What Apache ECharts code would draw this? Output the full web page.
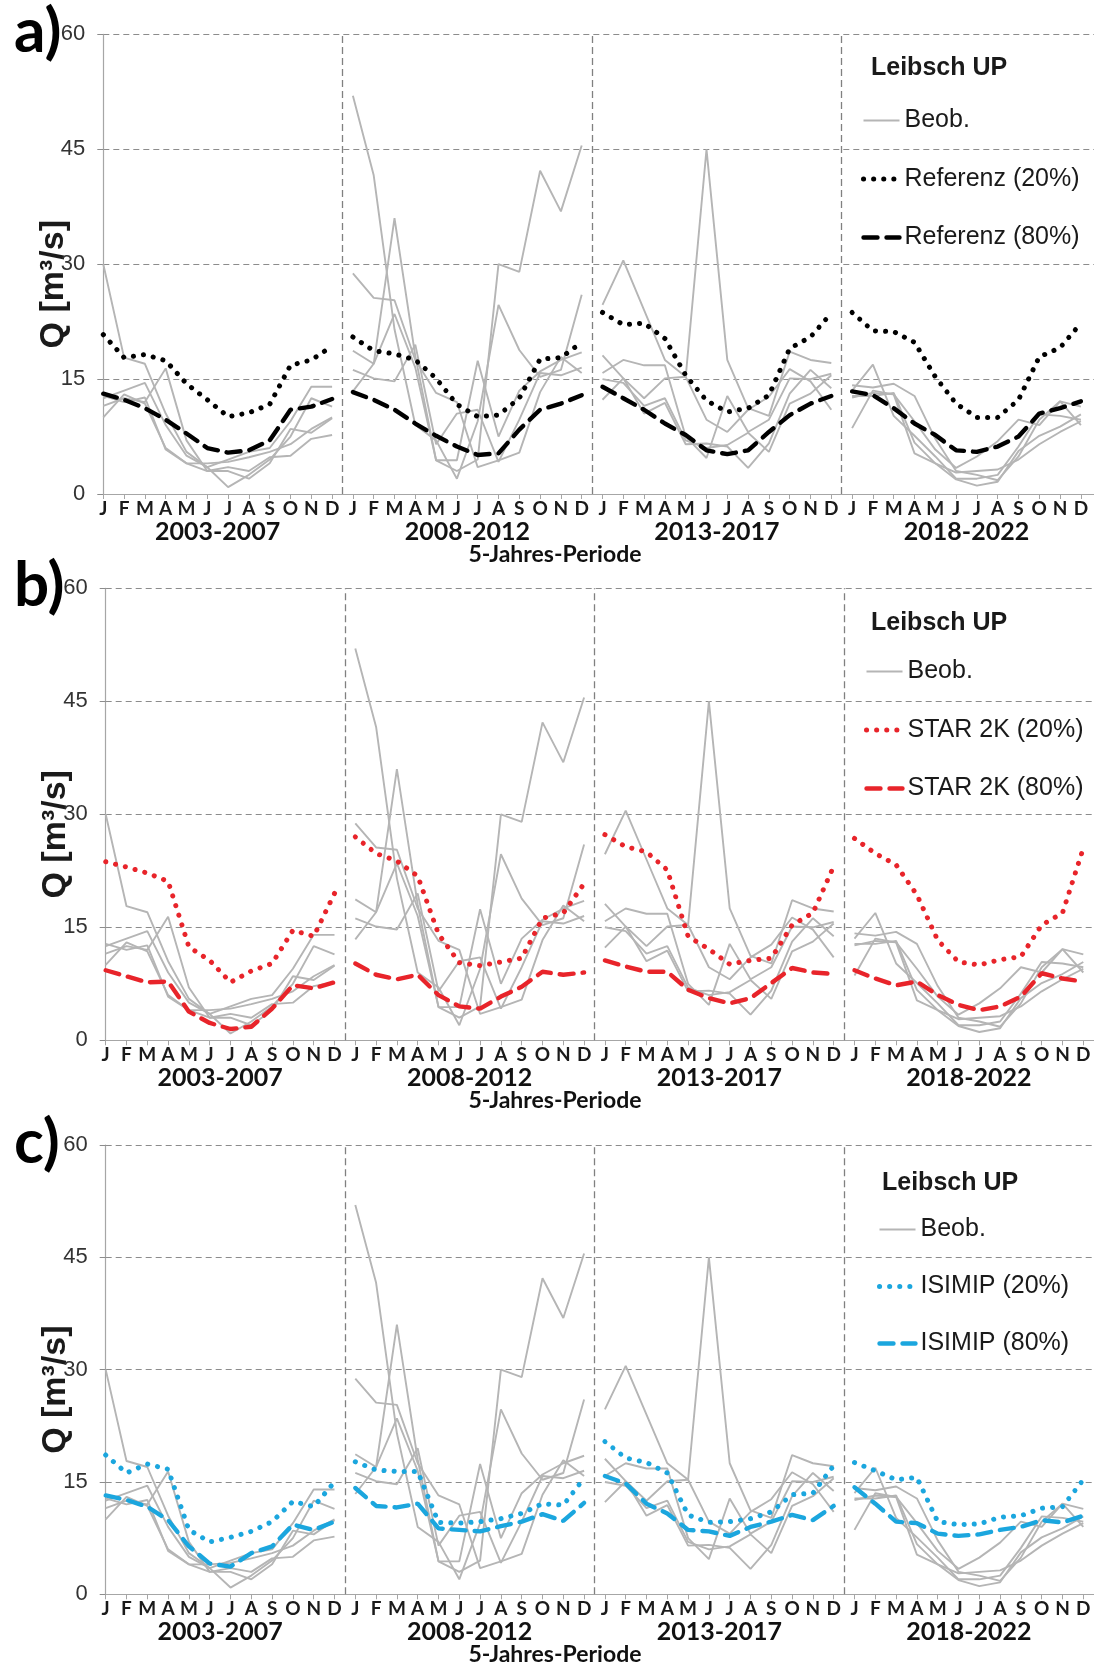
<!DOCTYPE html>
<html>
<head>
<meta charset="utf-8">
<script src="https://cdn.jsdelivr.net/npm/echarts@6/dist/echarts.min.js"></script>
<style>
  html, body { margin: 0; padding: 0; background: #ffffff; }
  #chart { width: 1094px; height: 1666px; }
</style>
</head>
<body>
<div id="chart"></div>
<script>
// Month letters on the axis and the four 5-year periods
const MONTHS = ['J', 'F', 'M', 'A', 'M', 'J', 'J', 'A', 'S', 'O', 'N', 'D'];
const PERIODS = ['2003-2007', '2008-2012', '2013-2017', '2018-2022'];
const Y_TICKS = [0, 15, 30, 45, 60];

// Observed monthly discharge (Beob.), one row per year, Q in m³/s
const obs2003_2007 = [
  [30.0, 17.8, 17.0, 10.5, 5.5, 3.5, 4.5, 5.5, 6.0, 9.5, 14.0, 14.0],
  [12.5, 13.5, 14.5, 9.0, 5.0, 3.5, 0.9, 2.5, 4.5, 7.5, 12.5, 11.4],
  [11.5, 12.5, 12.0, 16.4, 7.0, 3.0, 3.0, 2.0, 4.0, 8.5, 8.0, 9.9],
  [10.0, 13.0, 11.8, 6.0, 4.0, 4.0, 4.2, 4.8, 5.5, 6.5, 8.5, 10.0],
  [12.8, 12.0, 12.6, 5.8, 4.0, 3.0, 3.5, 3.0, 4.8, 5.0, 7.2, 7.7]
];
const obs2008_2012 = [
  [18.7, 17.0, 23.5, 16.5, 4.4, 3.0, 4.5, 30.0, 29.0, 42.2, 36.9, 45.5],
  [52.0, 41.6, 21.5, 9.0, 7.0, 2.0, 9.5, 24.7, 18.8, 15.3, 16.2, 26.0],
  [13.4, 17.0, 36.0, 18.0, 4.4, 4.4, 17.4, 7.5, 13.5, 16.0, 17.5, 18.5],
  [28.8, 25.6, 25.3, 17.5, 13.2, 12.0, 3.5, 4.4, 5.4, 13.3, 17.9, 15.8],
  [16.2, 15.1, 14.7, 19.5, 6.5, 10.5, 11.0, 4.2, 9.7, 15.8, 15.5, 16.5]
];
const obs2013_2017 = [
  [24.7, 30.5, 24.0, 17.5, 15.3, 9.7, 8.1, 11.0, 12.7, 16.3, 14.7, 11.0],
  [18.1, 15.1, 12.5, 15.1, 15.3, 45.0, 17.5, 11.2, 10.2, 18.6, 17.5, 17.1],
  [15.8, 17.5, 16.8, 16.8, 7.5, 4.7, 12.8, 8.1, 9.7, 15.1, 15.0, 15.7],
  [12.3, 15.1, 10.5, 11.9, 6.5, 6.6, 6.2, 3.4, 6.6, 13.1, 16.2, 13.8],
  [15.0, 14.5, 11.5, 12.5, 7.0, 6.0, 6.4, 8.0, 5.5, 11.8, 13.1, 15.5]
];
const obs2018_2022 = [
  [8.6, 13.5, 13.0, 9.5, 5.8, 3.4, 4.9, 6.9, 9.7, 9.0, 12.1, 11.4],
  [13.5, 16.9, 10.2, 7.6, 4.9, 2.0, 2.0, 2.5, 6.2, 10.4, 10.2, 9.7],
  [14.2, 13.9, 14.4, 12.8, 7.2, 3.0, 2.5, 1.8, 4.9, 9.7, 12.1, 9.0],
  [12.8, 12.8, 13.2, 6.7, 4.0, 1.9, 1.1, 1.6, 5.6, 7.6, 8.8, 10.4],
  [12.6, 13.2, 13.0, 5.3, 4.0, 2.8, 3.0, 3.2, 4.5, 6.5, 8.1, 9.5]
];

// Simulated 20 % / 80 % monthly values, 12 months x 4 periods each
const ref20 = [20.8, 17.8, 18.2, 17.4, 14.4, 12.3, 10.1, 10.6, 11.7, 16.8, 17.5, 19.3,
               20.5, 18.7, 18.3, 17.5, 15.1, 11.7, 10.1, 10.3, 12.5, 17.6, 17.8, 19.8,
               23.7, 22.1, 22.3, 20.3, 15.5, 12.2, 10.7, 11.2, 12.9, 19.0, 20.5, 23.6,
               23.7, 21.3, 21.2, 19.8, 15.3, 11.8, 10.0, 10.0, 12.3, 17.9, 19.1, 22.3];
const ref80 = [13.1, 12.3, 11.2, 9.7, 7.9, 6.0, 5.4, 5.7, 7.0, 11.0, 11.4, 12.4,
               13.3, 12.3, 11.0, 9.2, 7.6, 6.2, 5.1, 5.3, 8.4, 11.0, 11.8, 12.9,
               14.0, 12.5, 11.0, 9.2, 7.7, 5.7, 5.2, 5.7, 8.1, 10.3, 11.8, 12.8,
               13.4, 12.9, 11.2, 9.2, 7.7, 5.7, 5.5, 6.2, 7.5, 10.5, 11.2, 12.1];
const star20 = [23.7, 23.0, 22.2, 21.1, 12.4, 10.6, 7.7, 9.2, 10.2, 14.6, 13.8, 19.5,
                27.0, 24.8, 23.8, 21.8, 14.1, 10.3, 9.9, 10.4, 10.9, 16.2, 16.9, 20.8,
                27.3, 25.7, 25.0, 22.6, 13.8, 12.1, 10.1, 10.6, 10.9, 15.3, 16.9, 23.1,
                26.8, 24.8, 23.3, 19.3, 13.3, 10.4, 10.0, 10.7, 11.1, 15.3, 16.9, 25.5];
const star80 = [9.3, 8.5, 7.7, 7.8, 3.8, 2.3, 1.5, 1.8, 4.2, 7.3, 6.9, 7.7,
                10.2, 8.7, 8.1, 8.7, 6.0, 4.5, 4.2, 5.8, 7.1, 9.1, 8.7, 9.0,
                10.6, 9.8, 9.1, 9.1, 6.7, 5.6, 4.9, 5.6, 7.6, 9.6, 9.0, 8.8,
                9.3, 8.2, 7.3, 7.8, 6.0, 4.7, 4.0, 4.5, 5.8, 8.9, 8.2, 7.8];
const isimip20 = [18.6, 16.2, 17.4, 16.7, 8.6, 7.0, 7.6, 8.4, 9.7, 12.4, 11.7, 15.0,
                  17.7, 16.6, 16.4, 16.4, 9.6, 9.5, 9.7, 10.1, 10.8, 12.1, 11.9, 15.5,
                  20.4, 18.2, 17.6, 16.2, 10.6, 9.6, 9.7, 10.1, 11.0, 13.3, 13.5, 17.2,
                  17.6, 16.5, 15.3, 15.6, 9.7, 9.3, 9.4, 10.3, 10.5, 11.5, 11.7, 15.3];
const isimip80 = [13.2, 12.6, 11.7, 9.9, 6.4, 4.1, 3.7, 5.5, 6.4, 9.3, 8.6, 9.7,
                  14.2, 11.8, 11.6, 12.1, 8.8, 8.6, 8.4, 9.1, 9.7, 10.7, 9.8, 12.2,
                  15.8, 14.8, 12.1, 10.8, 8.6, 8.4, 7.8, 9.0, 9.7, 10.6, 9.9, 11.8,
                  14.3, 12.1, 9.7, 9.5, 8.1, 7.8, 8.0, 8.6, 9.0, 9.9, 9.6, 10.5];

const OBS = [obs2003_2007, obs2008_2012, obs2013_2017, obs2018_2022];

// Layout of the three stacked panels
const MONTH_PX = 20.8;
const PANELS = [
  { tag: 'a)', q20: ref20, q80: ref80, names: ['Referenz (20%)', 'Referenz (80%)'], color: '#000000',
    left: 103.3, top: 34.4, height: 459.6, legendLeft: 856, legendTop: 103, legendGap: 33.5,
    titleLeft: 866, titleTop: 51 },
  { tag: 'b)', q20: star20, q80: star80, names: ['STAR 2K (20%)', 'STAR 2K (80%)'], color: '#e8242a',
    left: 105.7, top: 588.3, height: 452, legendLeft: 859, legendTop: 654, legendGap: 33.5,
    titleLeft: 866, titleTop: 606 },
  { tag: 'c)', q20: isimip20, q80: isimip80, names: ['ISIMIP (20%)', 'ISIMIP (80%)'], color: '#1ba6de',
    left: 105.7, top: 1145, height: 449.3, legendLeft: 872, legendTop: 1212, legendGap: 32,
    titleLeft: 877, titleTop: 1166 }
];

const GRID_COLOR = '#8c8c8c';
const OBS_COLOR = '#b5b5b5';
const DOT = [0.1, 10];
const DASH = [14, 9];
const NO_SYMBOL = { color: 'rgba(0,0,0,0)', opacity: 0, borderWidth: 0 };

const grid = [], xAxis = [], yAxis = [], series = [], legend = [], title = [];
const monthTicks = Array.from({ length: 48 }, (_, i) => i);
const periodCenters = PERIODS.map((_, p) => p * 12 + 5.5);

PANELS.forEach((P, g) => {
  const xMax = (1094 - P.left) / MONTH_PX;
  grid.push({ left: P.left, top: P.top, height: P.height, right: 0 });

  xAxis.push({
    type: 'value', gridIndex: g, min: 0, max: xMax, position: 'bottom',
    axisLine: { lineStyle: { color: '#a6a6a6', width: 1.2 } },
    axisTick: { show: true, length: 5, customValues: monthTicks, lineStyle: { color: '#a6a6a6' } },
    splitLine: { show: false },
    axisLabel: {
      customValues: monthTicks, margin: 5,
      formatter: v => MONTHS[Math.round(v) % 12],
      fontFamily: 'Lato', fontWeight: 'bold', fontSize: 19, color: '#1a1a1a'
    }
  });
  xAxis.push({
    type: 'value', gridIndex: g, min: 0, max: xMax, position: 'bottom',
    axisLine: { show: false }, axisTick: { show: false }, splitLine: { show: false },
    axisLabel: {
      customValues: periodCenters, margin: 25,
      formatter: v => PERIODS[Math.round((v - 5.5) / 12)],
      fontFamily: 'Lato', fontWeight: 'bold', fontSize: 25, color: '#111'
    }
  });

  yAxis.push({
    type: 'value', gridIndex: g, min: 0, max: 60, interval: 15,
    name: 'Q [m³/s]', nameLocation: 'middle', nameRotate: 90, nameGap: 33,
    nameMoveOverlap: false,
    nameTextStyle: { fontFamily: 'Liberation Sans', fontWeight: 'bold', fontSize: 34, color: '#1a1a1a',
                     padding: [0, 40, 0, 0] },
    axisLine: { show: true, lineStyle: { color: '#a6a6a6', width: 1.2 } },
    axisTick: { show: true, length: 6, lineStyle: { color: GRID_COLOR } },
    splitLine: { show: true, lineStyle: { color: GRID_COLOR, type: [6, 4], width: 1 } },
    axisLabel: {
      customValues: Y_TICKS, margin: 18,
      fontFamily: 'Liberation Sans', fontSize: 22, color: '#333'
    }
  });

  const xi = g * 2;
  // observed years, grey thin lines
  OBS.forEach((rows, p) => {
    rows.forEach((row, k) => {
      const s = {
        type: 'line', name: 'Beob.', xAxisIndex: xi, yAxisIndex: g,
        symbol: 'none', animation: false, silent: true, z: 2,
        itemStyle: { color: OBS_COLOR },
        lineStyle: { color: OBS_COLOR, width: 1.9 },
        data: row.map((v, i) => [p * 12 + i, v])
      };
      if (p === 0 && k === 0) {
        s.markLine = {
          silent: true, symbol: 'none', label: { show: false },
          lineStyle: { color: '#808080', type: [7, 4], width: 1.3 },
          data: [{ xAxis: 11.5 }, { xAxis: 23.5 }, { xAxis: 35.5 }]
        };
      }
      series.push(s);
    });
  });
  // simulated 20 % (dotted) and 80 % (dashed)
  PERIODS.forEach((_, p) => {
    series.push({
      type: 'line', name: P.names[0], xAxisIndex: xi, yAxisIndex: g,
      symbol: 'none', animation: false, silent: true, z: 4,
      itemStyle: { color: P.color },
      lineStyle: { color: P.color, width: 5, type: DOT, cap: 'round' },
      data: P.q20.slice(p * 12, p * 12 + 12).map((v, i) => [p * 12 + i, v])
    });
    series.push({
      type: 'line', name: P.names[1], xAxisIndex: xi, yAxisIndex: g,
      symbol: 'none', animation: false, silent: true, z: 3,
      itemStyle: { color: P.color },
      lineStyle: { color: P.color, width: 4.4, type: DASH, cap: 'round' },
      data: P.q80.slice(p * 12, p * 12 + 12).map((v, i) => [p * 12 + i, v])
    });
  });

  legend.push({
    orient: 'vertical', left: P.legendLeft, top: P.legendTop,
    itemWidth: 36, itemHeight: 25, itemGap: P.legendGap, selectedMode: false,
    textStyle: { fontFamily: 'Liberation Sans', fontSize: 25, color: '#1a1a1a' },
    data: [
      { name: 'Beob.', itemStyle: NO_SYMBOL,
        lineStyle: { color: OBS_COLOR, width: 1.9, type: 'solid' } },
      { name: P.names[0], itemStyle: NO_SYMBOL,
        lineStyle: { color: P.color, width: 5, type: DOT, cap: 'round' } },
      { name: P.names[1], itemStyle: NO_SYMBOL,
        lineStyle: { color: P.color, width: 4.4, type: DASH, cap: 'round' } }
    ]
  });

  title.push({
    text: P.tag, left: 9, top: P.top - 38,
    textStyle: { fontFamily: 'Lato', fontWeight: 'bold', fontSize: 62, color: '#000' }
  });
  title.push({
    text: 'Leibsch UP', left: P.titleLeft, top: P.titleTop,
    textStyle: { fontFamily: 'Liberation Sans', fontWeight: 'bold', fontSize: 25, color: '#1a1a1a' }
  });
  title.push({
    text: '5-Jahres-Periode', left: 550, top: P.top + P.height + 44, textAlign: 'center',
    textStyle: { fontFamily: 'Lato', fontWeight: 'bold', fontSize: 23, color: '#111' }
  });
});

const chart = echarts.init(document.getElementById('chart'), null, { renderer: 'canvas' });
chart.setOption({
  backgroundColor: '#ffffff',
  animation: false,
  title, grid, xAxis, yAxis, legend, series
});
</script>
</body>
</html>
